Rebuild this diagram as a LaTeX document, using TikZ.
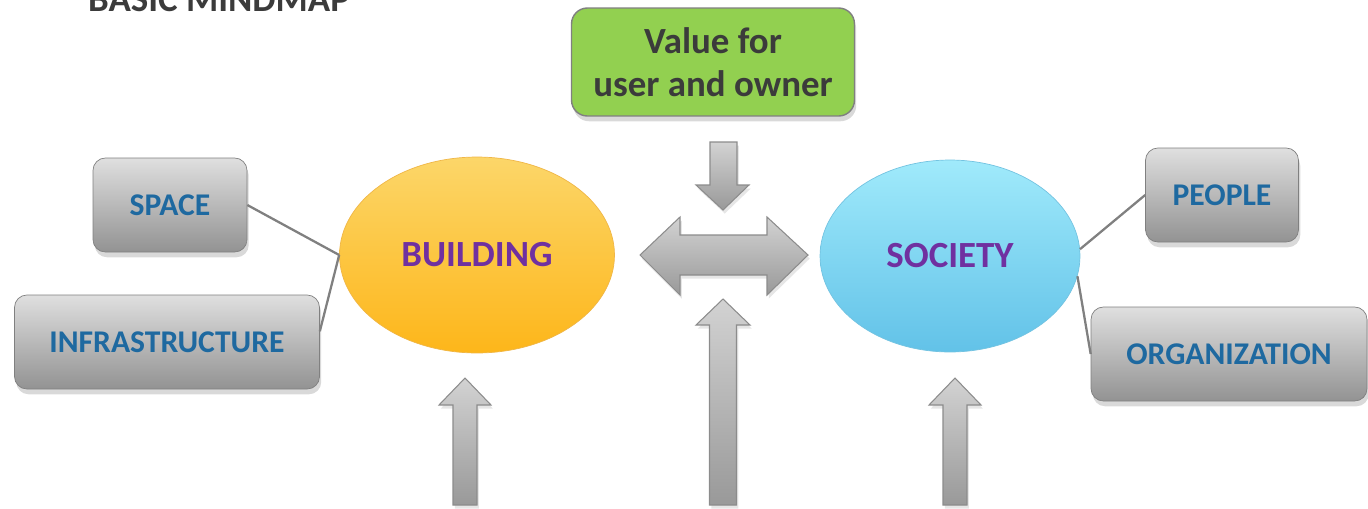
\documentclass[tikz,border=0pt]{standalone}
\usepackage{fontspec}
\setmainfont{Carlito}
\usetikzlibrary{shapes.geometric,shadows}

\definecolor{leafblue}{RGB}{30,105,160}
\definecolor{hubpurple}{RGB}{112,48,160}
\definecolor{valuegreen}{RGB}{146,208,80}
\definecolor{inkgray}{RGB}{59,59,59}
\definecolor{edgegray}{RGB}{128,128,128}
\definecolor{sunlight}{RGB}{252,214,105}
\definecolor{sundeep}{RGB}{253,182,26}
\definecolor{sunedge}{RGB}{240,182,70}
\definecolor{skylight}{RGB}{160,234,251}
\definecolor{skydeep}{RGB}{98,194,232}
\definecolor{skyedge}{RGB}{115,195,225}

\begin{document}
\begin{tikzpicture}[
        x=0.02cm, y=-0.02cm,
        leaf/.style={draw=edgegray, rounded corners=7pt, top color=gray!25, bottom color=gray!85,
            minimum height=1.88cm, text=leafblue, font=\bfseries\fontsize{18}{20}\selectfont,
            drop shadow={shadow xshift=1pt, shadow yshift=-3pt, opacity=0.3}},
        hub/.style={ellipse, inner sep=0pt, text=hubpurple, font=\bfseries\fontsize{21}{24}\selectfont},
        link/.style={draw=edgegray, line width=1.3pt},
        blockarrow/.style={draw=gray!90, line width=0.6pt, top color=gray!35, bottom color=gray!80,
            drop shadow={shadow xshift=1pt, shadow yshift=-2pt, opacity=0.2}}
    ]
    \useasboundingbox (0,0) rectangle (1368,508);
    \clip (0,0) rectangle (1368,508);

    % heading, cut by the top edge
    \node[anchor=base west, text=inkgray, font=\bfseries\fontsize{21}{24}\selectfont] (title) at (82,11) {BASIC MINDMAP};

    % the two hubs
    \node[hub, minimum width=5.5cm, minimum height=3.92cm, draw=sunedge,
        top color=sunlight, bottom color=sundeep] (building) at (477,255) {BUILDING};
    \node[hub, minimum width=5.2cm, minimum height=3.84cm, draw=skyedge,
        top color=skylight, bottom color=skydeep] (society) at (950,256) {SOCIETY};

    % leaves
    \node[leaf, minimum width=3.08cm] (space) at (170,205) {SPACE};
    \node[leaf, minimum width=6.1cm] (infra) at (167,342) {INFRASTRUCTURE};
    \node[leaf, minimum width=3.06cm] (people) at (1222,195) {PEOPLE};
    \node[leaf, minimum width=5.52cm] (org) at (1229,354) {ORGANIZATION};

    \node[draw=edgegray, line width=0.8pt, rounded corners=9pt, fill=valuegreen,
        minimum width=5.66cm, minimum height=2.16cm, align=center, text=inkgray,
        font=\bfseries\fontsize{21}{24.5}\selectfont,
        drop shadow={shadow xshift=1pt, shadow yshift=-3pt, opacity=0.3}] (value) at (713,62)
        {Value for\\user and owner};

    \draw[link] (space.east) -- (building.west);
    \draw[link] (infra.4) -- (building.west);
    \draw[link] (society.3) -- (people.west);
    \draw[link] (society.-9) -- (org.west);

    % block arrows
    \draw[blockarrow] (710,142) -- (737,142) -- (737,185) -- (749,185) -- (723,210)
        -- (696,185) -- (710,185) -- cycle;
    \draw[blockarrow] (640,255) -- (680,217) -- (680,235) -- (767,235) -- (767,217) -- (808,255)
        -- (767,295) -- (767,275) -- (680,275) -- (680,295) -- cycle;
    \foreach \cx/\tip/\base/\hw/\sw in {723/299/325/27/13.5, 465/378/405/26/12, 955/378/405/26/12}
        \draw[blockarrow] (\cx-\sw,505) -- (\cx-\sw,\base) -- (\cx-\hw,\base) -- (\cx,\tip)
            -- (\cx+\hw,\base) -- (\cx+\sw,\base) -- (\cx+\sw,505) -- cycle;
\end{tikzpicture}
\end{document}
